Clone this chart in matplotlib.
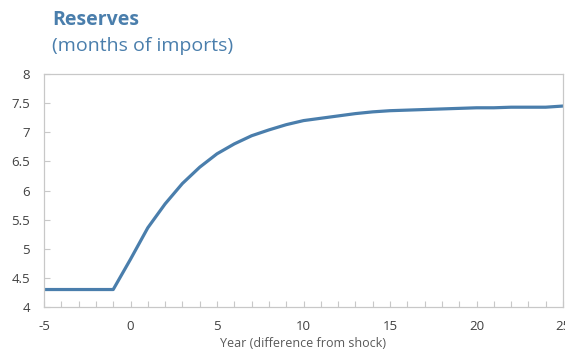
import matplotlib
matplotlib.use("Agg")
import matplotlib.pyplot as plt
from matplotlib.ticker import MultipleLocator

years = list(range(-5, 26))
reserves = [4.3, 4.3, 4.3, 4.3, 4.3, 4.82, 5.36, 5.77, 6.12, 6.40, 6.63, 6.80,
            6.94, 7.04, 7.13, 7.20, 7.24, 7.28, 7.32, 7.35, 7.37, 7.38, 7.39,
            7.40, 7.41, 7.42, 7.42, 7.43, 7.43, 7.43, 7.45]

title = "Reserves"
subtitle = "(months of imports)"
xlabel = "Year (difference from shock)"
xticks = [-5, 0, 5, 10, 15, 20, 25]
yticks = [4, 4.5, 5, 5.5, 6, 6.5, 7, 7.5, 8]
ytick_labels = ["4", "4.5", "5", "5.5", "6", "6.5", "7", "7.5", "8"]

plt.rcParams['font.family'] = ['Open Sans', 'DejaVu Sans']
blue = "#4A7EAC"
fig = plt.figure(figsize=(5.65, 3.52), dpi=100)
ax = fig.add_axes([44/565, 1-307/352, 519/565, (307-74)/352])
ax.plot(years, reserves, color=blue, lw=2.3, solid_joinstyle='round')
ax.set_xlim(-5, 25)
ax.set_ylim(4, 8)
ax.set_xticks(xticks)
ax.set_xticklabels([str(t) for t in xticks])
ax.xaxis.set_minor_locator(MultipleLocator(1))
ax.set_yticks(yticks)
ax.set_yticklabels(ytick_labels)
for s in ax.spines.values():
    s.set_color("#C8C8C8")
    s.set_linewidth(0.9)
ax.tick_params(axis='both', which='both', direction='in', length=4, width=0.8,
               color="#C8C8C8", labelsize=9.5, labelcolor="#404040")
ax.tick_params(axis='x', which='major', pad=9)
ax.tick_params(axis='y', which='major', pad=10)
for lab in ax.get_xticklabels():
    lab.set_clip_on(False)
ax.set_xlabel(xlabel, fontsize=9, color="#595959", labelpad=3)
fig.text(52/565, 1-20/352, title, fontsize=14, fontweight='bold', color=blue, va='center')
fig.text(52/565, 1-46/352, subtitle, fontsize=14, color=blue, va='center')
fig.savefig("out.png", dpi=100)
